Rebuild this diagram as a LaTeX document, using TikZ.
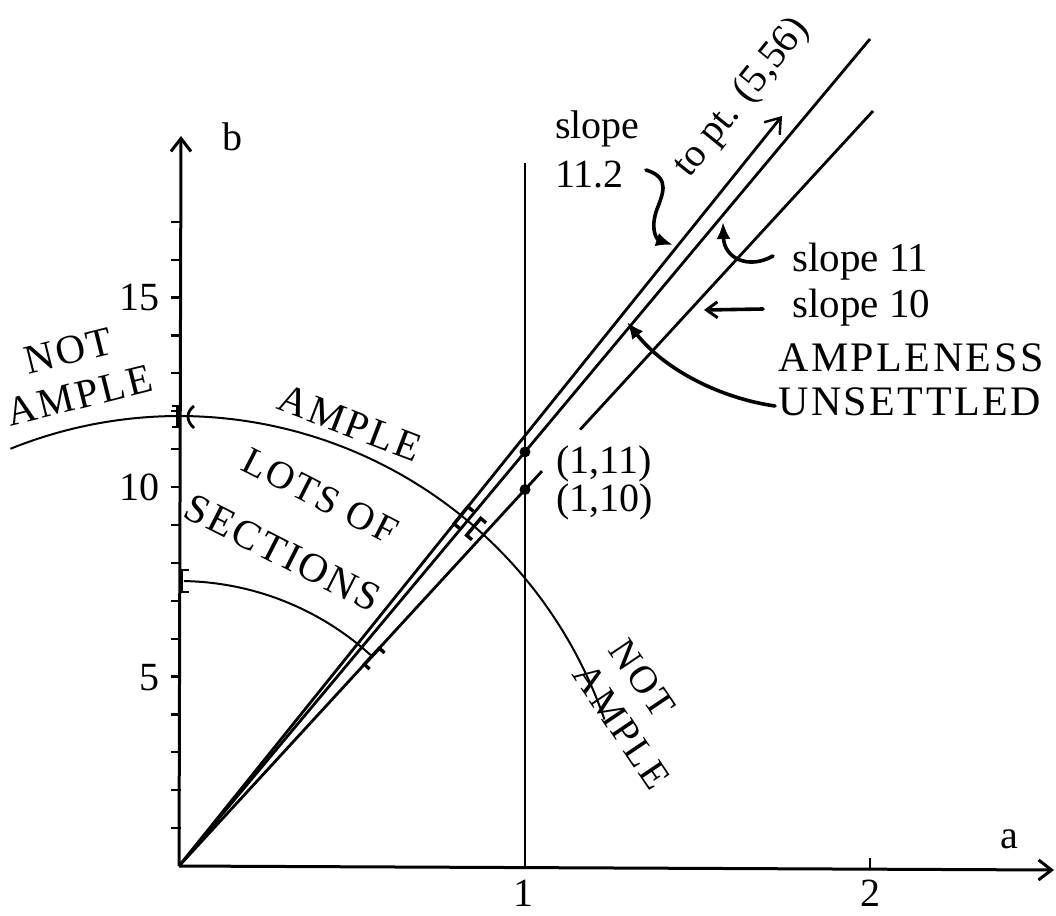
\documentclass[tikz,border=0pt]{standalone}
\usepackage{fontspec}
\setmainfont{Liberation Serif}
\newfontfamily\capsfont[LetterSpace=6]{Liberation Serif}
\usetikzlibrary{arrows.meta,calc}
\begin{document}
\begin{tikzpicture}[x=1pt,y=-1pt,
  every node/.style={font=\fontsize{40}{44}\selectfont, inner sep=0pt},
  caps/.style={font=\fontsize{41}{46}\selectfont\capsfont},
  axis/.style={line width=3pt},
  ray/.style={line width=2.8pt},
  thinline/.style={line width=1.6pt},
  arcline/.style={line width=2pt},
  hand/.style={line width=3.6pt, line cap=round},
  tickmark/.style={line width=2.2pt},
  barb/.style={-{Straight Barb[length=13pt,width=20pt,line width=3pt]}},
  handtip/.style={-{Latex[length=17pt,width=14pt]}},
  endmark/.pic={\draw[line width=3.4pt] (7,-11) -- (0,-11) -- (0,11) -- (7,11);}
]
\useasboundingbox (0,0) rectangle (1056,915);
% key points
\coordinate (O) at (179,866);
\coordinate (bend) at (181,136);
\coordinate (aend) at (1054,870);
\coordinate (A112) at (782,116);
\coordinate (E11) at (870,39);
\coordinate (E10) at (873,111);
\coordinate (G1) at ($(O)!0.523!(E10)$);
\coordinate (G2) at ($(O)!0.578!(E10)$);
\coordinate (V0) at (525,867);
\coordinate (V1) at (525,163);
\coordinate (D11) at ($(O)!0.5007!(E11)$);
\coordinate (D10) at ($(O)!0.4986!(E10)$);
% axes
\draw[axis,barb] (O) -- (aend);
\draw[axis,barb] (O) -- (bend);
\foreach \k in {1,...,17} \draw[tickmark] (171,{866-37.9*\k}) -- (181,{866-37.9*\k});
\draw[tickmark] (870,869) -- (870,858);
\node[anchor=base west] (lb) at (222,150) {b};
\node[anchor=base west] (la) at (1000,848) {a};
\node[anchor=base] (l1) at (523,906) {1};
\node[anchor=base] (l2) at (870,906) {2};
\node[anchor=base east] (l5) at (160,690) {5};
\node[anchor=base east] (l10) at (160,500) {10};
\node[anchor=base east] (l15) at (160,310) {15};
% vertical line a=1
\draw[thinline] (V0) -- (V1);
% rays
\draw[ray,-{Straight Barb[length=14pt,width=20pt,line width=2.4pt]}] (O) -- (A112);
\draw[ray] (O) -- (E11);
\draw[ray] (O) -- (G1);
\draw[ray] (G2) -- (E10);
\fill (D11) circle (5.5);
\fill (D10) circle (5.5);
% arcs
\draw[arcline] plot[smooth,samples=60,domain=19:112] ({179+450*cos(\x)},{866-450*sin(\x)});
\draw[arcline] plot[smooth,samples=40,domain=47.4:89] ({179+285*cos(\x)},{866-285*sin(\x)});
% marks
\draw[line width=3.6pt] (181,570) -- (181,592);
\draw[line width=2.8pt] (189,570) -- (181,570) (181,592) -- (189,592);
\draw[line width=3.6pt] (178,405) -- (178,428);
\draw[line width=2.6pt] (172,406) -- (178,406) (172,427) -- (178,427);
\draw[line width=2.8pt] (194,406) .. controls (186,412) and (186,421) .. (194,428);
\pic[rotate=-39] at ({179+450*cos(51.2)},{866-450*sin(51.2)}) {endmark};
\pic[rotate=-40] at ({179+450*cos(50.1)+6},{866-450*sin(50.1)+6}) {endmark};
\pic[rotate=-43] at ({179+285*cos(47.4)},{866-285*sin(47.4)}) {endmark};
% labels
\node[anchor=base west] (s112a) at (555,138) {slope};
\node[anchor=base west] (s112b) at (555,187) {11.2};
\node[rotate=51] (topt) at (742,98) {to pt. (5,56)};
\node[anchor=base west,font=\fontsize{41}{44}\selectfont] (s11) at (792,271) {slope 11};
\node[anchor=base west,font=\fontsize{41}{44}\selectfont] (s10) at (792,317) {slope 10};
\node[caps,anchor=base west,font=\fontsize{42}{46}\selectfont\capsfont] (amp) at (778,371) {AMPLENESS};
\node[caps,anchor=base west,font=\fontsize{42}{46}\selectfont\capsfont] (uns) at (778,415) {UNSETTLED};
\node[anchor=base west] (p11) at (556,473) {(1,11)};
\node[anchor=base west] (p10) at (556,511) {(1,10)};
\node[caps,align=center,rotate=14] (na1) at (74,373) {NOT\\AMPLE};
\node[caps,rotate=-21] (ample) at (350,423) {AMPLE};
\node[caps,rotate=-27,font=\fontsize{39}{44}\selectfont\capsfont] (lots) at (320,496) {LOTS OF};
\node[caps,rotate=-27] (sect) at (283,553) {SECTIONS};
\node[caps,align=left,rotate=-56,font=\fontsize{39}{44}\selectfont\capsfont] (na2) at (640,714) {NOT\\AMPLE};
% hand-drawn arrows
\draw[hand,handtip] (646,170) .. controls (672,178) and (662,195) .. (656,212) .. controls (650,232) and (658,240) .. (673,245);
\draw[hand,handtip] (773,256) .. controls (748,270) and (724,258) .. (723,222);
\draw[hand,-{Straight Barb[length=11pt,width=16pt,line width=3pt]}] (763,309) -- (704,310);
\draw[hand,handtip] (775,406) .. controls (720,398) and (665,370) .. (627,322);
\end{tikzpicture}
\end{document}
